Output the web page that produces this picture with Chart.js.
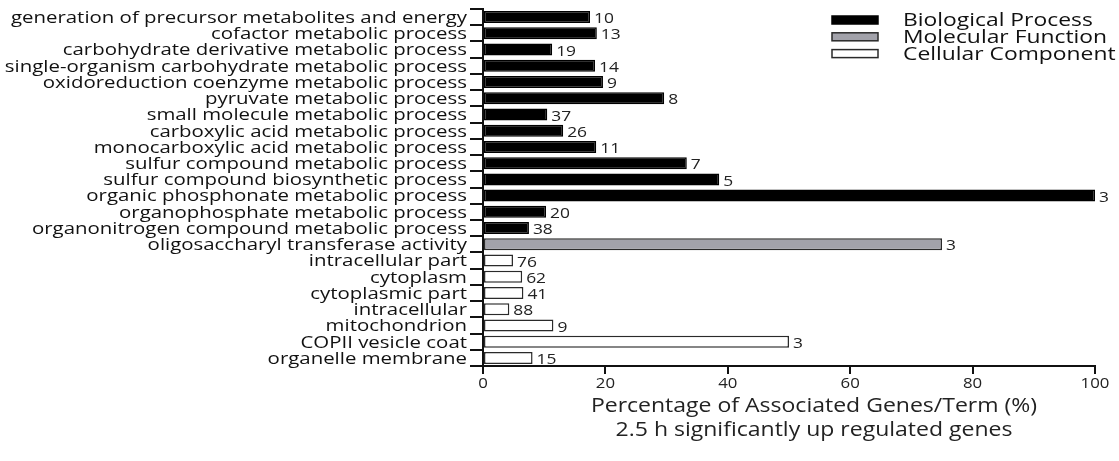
<!DOCTYPE html>
<html>
<head>
<meta charset="utf-8">
<script src="https://cdn.jsdelivr.net/npm/chart.js@4.4.1/dist/chart.umd.min.js"></script>
<style>
    html, body { margin: 0; padding: 0; background: #fff; }
    #wrap { width: 1119px; height: 461px; }
</style>
</head>
<body>
<div id="wrap"><canvas id="go-chart"></canvas></div>
<script>
const terms = [
    'generation of precursor metabolites and energy',
    'cofactor metabolic process',
    'carbohydrate derivative metabolic process',
    'single-organism carbohydrate metabolic process',
    'oxidoreduction coenzyme metabolic process',
    'pyruvate metabolic process',
    'small molecule metabolic process',
    'carboxylic acid metabolic process',
    'monocarboxylic acid metabolic process',
    'sulfur compound metabolic process',
    'sulfur compound biosynthetic process',
    'organic phosphonate metabolic process',
    'organophosphate metabolic process',
    'organonitrogen compound metabolic process',
    'oligosaccharyl transferase activity',
    'intracellular part',
    'cytoplasm',
    'cytoplasmic part',
    'intracellular',
    'mitochondrion',
    'COPII vesicle coat',
    'organelle membrane'
];
const percentages = [17.5, 18.6, 11.3, 18.3, 19.6, 29.6, 10.5, 13.1, 18.5, 33.3, 38.6, 100,
    10.3, 7.5, 75, 4.9, 6.4, 6.6, 4.3, 11.5, 50, 8.1];
const geneCounts = [10, 13, 19, 14, 9, 8, 37, 26, 11, 7, 5, 3, 20, 38, 3, 76, 62, 41, 88, 9, 3, 15];
const termTypes = ['BP', 'BP', 'BP', 'BP', 'BP', 'BP', 'BP', 'BP', 'BP', 'BP', 'BP', 'BP', 'BP', 'BP',
    'MF', 'CC', 'CC', 'CC', 'CC', 'CC', 'CC', 'CC'];
const xTicks = [0, 20, 40, 60, 80, 100];
const xTitle = ['Percentage of Associated Genes/Term (%)', '2.5 h significantly up regulated genes'];

const groups = {
    BP: {name: 'Biological Process', fill: '#000000', stroke: '#000000'},
    MF: {name: 'Molecular Function', fill: '#a2a2aa', stroke: '#2a2a2a'},
    CC: {name: 'Cellular Component', fill: '#ffffff', stroke: '#2a2a2a'}
};
const FONT = '"Open Sans", "DejaVu Sans", sans-serif';
const STRETCH = 1.2; // текст на исходнике растянут по горизонтали

// текст, растянутый по ширине
function wideText(ctx, text, x, y, align, size, sx) {
    ctx.save();
    ctx.font = size + 'px ' + FONT;
    ctx.textAlign = align;
    ctx.textBaseline = 'middle';
    ctx.translate(x, y);
    ctx.scale(sx || STRETCH, 1);
    ctx.fillText(text, 0, 0);
    ctx.restore();
}

// подписи осей, чисел генов и легенда
const textLayer = {
    id: 'textLayer',
    afterDraw(chart) {
        const ctx = chart.ctx;
        const xs = chart.scales.x;
        const ys = chart.scales.y;

        ctx.fillStyle = '#111';
        terms.forEach((t, i) => {
            wideText(ctx, t, ys.right - 16, ys.getPixelForValue(i) + 1, 'right', 17);
        });

        ctx.fillStyle = '#222';
        xTicks.forEach(v => {
            wideText(ctx, String(v), xs.getPixelForValue(v), xs.top + 18, 'center', 14);
        });
        const mid = (xs.left + xs.right) / 2 + 25;
        wideText(ctx, xTitle[0], mid, xs.top + 40, 'center', 19.5, 1.18);
        wideText(ctx, xTitle[1], mid, xs.top + 64, 'center', 19.5, 1.18);

        const meta = chart.getDatasetMeta(0);
        meta.data.forEach((bar, i) => {
            wideText(ctx, String(geneCounts[i]), bar.x + 4, bar.y + 2, 'left', 14.5);
        });

        ['BP', 'MF', 'CC'].forEach((key, i) => {
            const g = groups[key];
            const y = 20 + i * 16.8;
            ctx.save();
            ctx.fillStyle = g.fill;
            ctx.strokeStyle = g.stroke;
            ctx.lineWidth = 1.5;
            ctx.fillRect(832, y - 4, 46, 8);
            ctx.strokeRect(832, y - 4, 46, 8);
            ctx.restore();
            ctx.fillStyle = '#111';
            wideText(ctx, g.name, 903, y + 1, 'left', 18, 1.27);
        });
    }
};

new Chart(document.getElementById('go-chart'), {
    type: 'bar',
    data: {
        labels: terms,
        datasets: [{
            data: percentages,
            backgroundColor: termTypes.map(t => groups[t].fill),
            borderColor: termTypes.map(t => groups[t].stroke),
            borderWidth: 1.5,
            borderSkipped: false,
            barPercentage: 0.74,
            categoryPercentage: 1
        }]
    },
    options: {
        indexAxis: 'y',
        responsive: true,
        maintainAspectRatio: false,
        animation: false,
        layout: {padding: {top: 9, right: 24, left: 0, bottom: 0}},
        plugins: {
            legend: {display: false},
            tooltip: {enabled: false}
        },
        scales: {
            x: {
                min: 0,
                max: 100,
                afterBuildTicks(axis) {
                    axis.ticks = xTicks.map(v => ({value: v}));
                },
                afterFit(axis) {
                    axis.height = 95;
                },
                border: {color: '#111', width: 2},
                grid: {drawOnChartArea: false, drawTicks: true, tickLength: 8, color: '#111', lineWidth: 2},
                ticks: {display: false}
            },
            y: {
                afterFit(axis) {
                    axis.width = 483;
                },
                border: {color: '#111', width: 2},
                grid: {drawOnChartArea: false, drawTicks: true, tickLength: 13, color: '#111', lineWidth: 2},
                ticks: {display: false, autoSkip: false}
            }
        }
    },
    plugins: [textLayer]
});
</script>
</body>
</html>
